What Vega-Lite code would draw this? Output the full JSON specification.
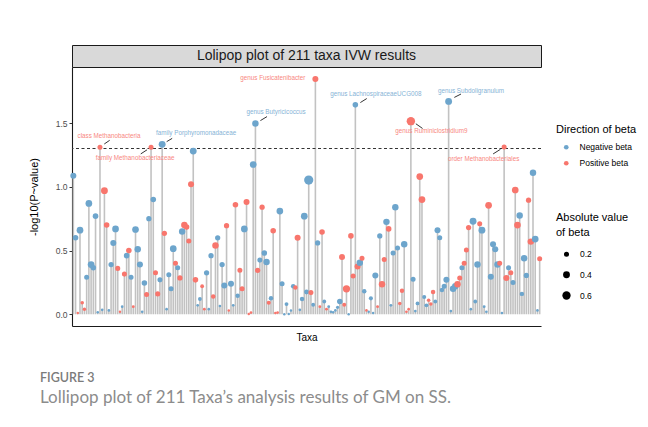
{
"$schema": "https://vega.github.io/schema/vega-lite/v6.json",
"autosize": {"type": "pad"},
"padding": {"left": 28, "top": 44, "right": 0, "bottom": 0},
"background": "white",
"config": {"font": "Liberation Sans", "view": {"stroke": null}, "concat": {"spacing": 0}},
"title": {"text": "FIGURE 3", "subtitle": "Lollipop plot of 211 Taxa’s analysis results of GM on SS.", "orient": "bottom", "anchor": "start", "frame": "group", "font": "Lato", "fontSize": 12.5, "fontWeight": 600, "color": "#7b7b7b", "subtitleFont": "Lato", "subtitleFontSize": 17, "subtitleColor": "#8c8c8c", "subtitlePadding": 5, "offset": 30, "dx": -32},
"datasets": {"taxa": [
{"i":1,"p":1.087,"d":"Negative beta","b":0.3},
{"i":2,"p":0.60,"d":"Negative beta","b":0.25},
{"i":3,"p":0.01,"d":"Positive beta","b":0.02},
{"i":4,"p":0.66,"d":"Negative beta","b":0.38},
{"i":5,"p":0.09,"d":"Positive beta","b":0.08},
{"i":6,"p":0.04,"d":"Positive beta","b":0.08},
{"i":7,"p":0.29,"d":"Negative beta","b":0.2},
{"i":8,"p":0.87,"d":"Negative beta","b":0.38},
{"i":9,"p":0.39,"d":"Negative beta","b":0.38},
{"i":10,"p":0.365,"d":"Negative beta","b":0.25},
{"i":11,"p":0.77,"d":"Negative beta","b":0.25},
{"i":12,"p":0.015,"d":"Negative beta","b":0.02},
{"i":13,"p":1.31,"d":"Positive beta","b":0.2,"lab":"class Methanobacteria"},
{"i":14,"p":0.035,"d":"Negative beta","b":0.03},
{"i":15,"p":0.97,"d":"Positive beta","b":0.4},
{"i":16,"p":0.70,"d":"Positive beta","b":0.25},
{"i":17,"p":0.03,"d":"Negative beta","b":0.03},
{"i":18,"p":0.39,"d":"Negative beta","b":0.22},
{"i":19,"p":0.56,"d":"Negative beta","b":0.3},
{"i":20,"p":0.67,"d":"Negative beta","b":0.38},
{"i":21,"p":0.36,"d":"Positive beta","b":0.2},
{"i":22,"p":0.02,"d":"Positive beta","b":0.02},
{"i":23,"p":0.06,"d":"Negative beta","b":0.03},
{"i":24,"p":0.315,"d":"Positive beta","b":0.2},
{"i":25,"p":0.46,"d":"Negative beta","b":0.25},
{"i":26,"p":0.50,"d":"Positive beta","b":0.25},
{"i":27,"p":0.29,"d":"Negative beta","b":0.2},
{"i":28,"p":0.06,"d":"Positive beta","b":0.04},
{"i":29,"p":0.665,"d":"Negative beta","b":0.38},
{"i":30,"p":0.51,"d":"Negative beta","b":0.35},
{"i":31,"p":0.39,"d":"Negative beta","b":0.3},
{"i":32,"p":0.02,"d":"Negative beta","b":0.03},
{"i":33,"p":0.245,"d":"Negative beta","b":0.25},
{"i":34,"p":0.155,"d":"Positive beta","b":0.2},
{"i":35,"p":0.75,"d":"Negative beta","b":0.22},
{"i":36,"p":1.31,"d":"Positive beta","b":0.2,"lab":"family Methanobacteriaceae"},
{"i":37,"p":0.90,"d":"Negative beta","b":0.25},
{"i":38,"p":0.325,"d":"Positive beta","b":0.2},
{"i":39,"p":0.16,"d":"Positive beta","b":0.2},
{"i":40,"p":0.27,"d":"Negative beta","b":0.2},
{"i":41,"p":1.333,"d":"Negative beta","b":0.4,"lab":"family Porphyromonadaceae"},
{"i":42,"p":0.635,"d":"Positive beta","b":0.22},
{"i":43,"p":0.04,"d":"Negative beta","b":0.03},
{"i":44,"p":0.31,"d":"Negative beta","b":0.2},
{"i":45,"p":0.20,"d":"Negative beta","b":0.2},
{"i":46,"p":0.515,"d":"Negative beta","b":0.38},
{"i":47,"p":0.40,"d":"Positive beta","b":0.2},
{"i":48,"p":0.365,"d":"Negative beta","b":0.2},
{"i":49,"p":0.285,"d":"Positive beta","b":0.22},
{"i":50,"p":0.65,"d":"Negative beta","b":0.35},
{"i":51,"p":0.70,"d":"Positive beta","b":0.35},
{"i":52,"p":0.685,"d":"Positive beta","b":0.25},
{"i":53,"p":0.575,"d":"Positive beta","b":0.2},
{"i":54,"p":1.02,"d":"Positive beta","b":0.3},
{"i":55,"p":1.28,"d":"Negative beta","b":0.4},
{"i":56,"p":0.27,"d":"Positive beta","b":0.25},
{"i":57,"p":0.07,"d":"Negative beta","b":0.03},
{"i":58,"p":0.12,"d":"Negative beta","b":0.1},
{"i":59,"p":0.22,"d":"Positive beta","b":0.1},
{"i":60,"p":0.04,"d":"Positive beta","b":0.04},
{"i":61,"p":0.325,"d":"Negative beta","b":0.22},
{"i":62,"p":0.04,"d":"Negative beta","b":0.03},
{"i":63,"p":0.46,"d":"Negative beta","b":0.22},
{"i":64,"p":0.14,"d":"Positive beta","b":0.15},
{"i":65,"p":0.54,"d":"Positive beta","b":0.35},
{"i":66,"p":0.60,"d":"Negative beta","b":0.22},
{"i":67,"p":0.065,"d":"Negative beta","b":0.03},
{"i":68,"p":0.39,"d":"Negative beta","b":0.22},
{"i":69,"p":0.225,"d":"Negative beta","b":0.3},
{"i":70,"p":0.695,"d":"Positive beta","b":0.22},
{"i":71,"p":0.03,"d":"Positive beta","b":0.02},
{"i":72,"p":0.24,"d":"Negative beta","b":0.3},
{"i":73,"p":0.07,"d":"Negative beta","b":0.03},
{"i":74,"p":0.86,"d":"Positive beta","b":0.25},
{"i":75,"p":0.145,"d":"Negative beta","b":0.15},
{"i":76,"p":0.345,"d":"Positive beta","b":0.2},
{"i":77,"p":0.20,"d":"Positive beta","b":0.2},
{"i":78,"p":0.67,"d":"Negative beta","b":0.38},
{"i":79,"p":0.88,"d":"Positive beta","b":0.3},
{"i":80,"p":0.003,"d":"Positive beta","b":0.02},
{"i":81,"p":0.013,"d":"Positive beta","b":0.03},
{"i":82,"p":1.175,"d":"Negative beta","b":0.38},
{"i":83,"p":1.496,"d":"Negative beta","b":0.35,"lab":"genus Butyricicoccus"},
{"i":84,"p":0.345,"d":"Positive beta","b":0.22},
{"i":85,"p":0.425,"d":"Negative beta","b":0.2},
{"i":86,"p":0.84,"d":"Positive beta","b":0.22},
{"i":87,"p":0.48,"d":"Negative beta","b":0.25},
{"i":88,"p":0.41,"d":"Negative beta","b":0.35},
{"i":89,"p":0.09,"d":"Positive beta","b":0.12},
{"i":90,"p":0.125,"d":"Negative beta","b":0.15},
{"i":91,"p":0.655,"d":"Positive beta","b":0.25},
{"i":92,"p":0.01,"d":"Positive beta","b":0.03},
{"i":93,"p":0.013,"d":"Positive beta","b":0.03},
{"i":94,"p":0.81,"d":"Negative beta","b":0.38},
{"i":95,"p":0.24,"d":"Negative beta","b":0.2},
{"i":96,"p":0.0,"d":"Negative beta","b":0.02},
{"i":97,"p":0.08,"d":"Negative beta","b":0.1},
{"i":98,"p":0.002,"d":"Negative beta","b":0.02},
{"i":99,"p":0.03,"d":"Negative beta","b":0.02},
{"i":100,"p":0.22,"d":"Negative beta","b":0.15},
{"i":101,"p":0.21,"d":"Positive beta","b":0.15},
{"i":102,"p":0.60,"d":"Positive beta","b":0.3},
{"i":103,"p":0.035,"d":"Negative beta","b":0.03},
{"i":104,"p":0.12,"d":"Negative beta","b":0.15},
{"i":105,"p":0.77,"d":"Negative beta","b":0.38},
{"i":106,"p":0.175,"d":"Negative beta","b":0.18},
{"i":107,"p":1.053,"d":"Negative beta","b":0.75},
{"i":108,"p":0.17,"d":"Positive beta","b":0.2},
{"i":109,"p":0.075,"d":"Negative beta","b":0.1},
{"i":110,"p":1.845,"d":"Positive beta","b":0.3,"lab":"genus Fusicatenibacter"},
{"i":111,"p":0.56,"d":"Negative beta","b":0.22},
{"i":112,"p":0.06,"d":"Positive beta","b":0.04},
{"i":113,"p":0.645,"d":"Positive beta","b":0.25},
{"i":114,"p":0.10,"d":"Negative beta","b":0.1},
{"i":115,"p":0.04,"d":"Positive beta","b":0.04},
{"i":116,"p":0.06,"d":"Negative beta","b":0.04},
{"i":117,"p":0.02,"d":"Negative beta","b":0.03},
{"i":118,"p":0.015,"d":"Negative beta","b":0.02},
{"i":119,"p":0.03,"d":"Negative beta","b":0.03},
{"i":120,"p":0.055,"d":"Negative beta","b":0.06},
{"i":121,"p":0.10,"d":"Negative beta","b":0.25},
{"i":122,"p":0.45,"d":"Positive beta","b":0.3},
{"i":123,"p":0.075,"d":"Positive beta","b":0.1},
{"i":124,"p":0.20,"d":"Positive beta","b":0.45},
{"i":125,"p":0.0,"d":"Negative beta","b":0.02},
{"i":126,"p":0.615,"d":"Positive beta","b":0.25},
{"i":127,"p":0.30,"d":"Positive beta","b":0.2},
{"i":128,"p":1.643,"d":"Negative beta","b":0.25,"lab":"genus LachnospiraceaeUCG008"},
{"i":129,"p":0.375,"d":"Positive beta","b":0.3},
{"i":130,"p":0.405,"d":"Negative beta","b":0.35},
{"i":131,"p":0.44,"d":"Positive beta","b":0.2},
{"i":132,"p":0.18,"d":"Negative beta","b":0.15},
{"i":133,"p":0.03,"d":"Positive beta","b":0.03},
{"i":134,"p":0.02,"d":"Negative beta","b":0.02},
{"i":135,"p":0.125,"d":"Negative beta","b":0.12},
{"i":136,"p":0.01,"d":"Negative beta","b":0.02},
{"i":137,"p":0.305,"d":"Negative beta","b":0.3},
{"i":138,"p":0.06,"d":"Positive beta","b":0.04},
{"i":139,"p":0.615,"d":"Negative beta","b":0.22},
{"i":140,"p":0.235,"d":"Positive beta","b":0.35},
{"i":141,"p":0.43,"d":"Positive beta","b":0.2},
{"i":142,"p":0.725,"d":"Negative beta","b":0.35},
{"i":143,"p":0.67,"d":"Positive beta","b":0.25},
{"i":144,"p":0.07,"d":"Negative beta","b":0.04},
{"i":145,"p":0.48,"d":"Negative beta","b":0.2},
{"i":146,"p":0.84,"d":"Negative beta","b":0.35},
{"i":147,"p":0.52,"d":"Negative beta","b":0.2},
{"i":148,"p":0.085,"d":"Positive beta","b":0.08},
{"i":149,"p":0.185,"d":"Positive beta","b":0.15},
{"i":150,"p":0.55,"d":"Negative beta","b":0.35},
{"i":151,"p":0.02,"d":"Positive beta","b":0.03},
{"i":152,"p":0.04,"d":"Positive beta","b":0.03},
{"i":153,"p":1.515,"d":"Positive beta","b":0.62,"lab":"genus Ruminiclostridium9"},
{"i":154,"p":0.275,"d":"Negative beta","b":0.2},
{"i":155,"p":0.025,"d":"Negative beta","b":0.03},
{"i":156,"p":0.085,"d":"Negative beta","b":0.1},
{"i":157,"p":1.08,"d":"Positive beta","b":0.38},
{"i":158,"p":0.90,"d":"Positive beta","b":0.38},
{"i":159,"p":0.135,"d":"Negative beta","b":0.12},
{"i":160,"p":0.07,"d":"Negative beta","b":0.1},
{"i":161,"p":0.11,"d":"Positive beta","b":0.08},
{"i":162,"p":0.08,"d":"Positive beta","b":0.08},
{"i":163,"p":0.175,"d":"Positive beta","b":0.15},
{"i":164,"p":0.10,"d":"Negative beta","b":0.1},
{"i":165,"p":0.66,"d":"Negative beta","b":0.3},
{"i":166,"p":0.60,"d":"Negative beta","b":0.2},
{"i":167,"p":0.19,"d":"Negative beta","b":0.15},
{"i":168,"p":0.22,"d":"Negative beta","b":0.2},
{"i":169,"p":0.27,"d":"Negative beta","b":0.3},
{"i":170,"p":1.67,"d":"Negative beta","b":0.4,"lab":"genus Subdoligranulum"},
{"i":171,"p":0.025,"d":"Negative beta","b":0.03},
{"i":172,"p":0.20,"d":"Negative beta","b":0.35},
{"i":173,"p":0.22,"d":"Negative beta","b":0.35},
{"i":174,"p":0.235,"d":"Positive beta","b":0.35},
{"i":175,"p":0.285,"d":"Positive beta","b":0.2},
{"i":176,"p":0.365,"d":"Negative beta","b":0.2},
{"i":177,"p":0.40,"d":"Positive beta","b":0.2},
{"i":178,"p":0.505,"d":"Positive beta","b":0.2},
{"i":179,"p":0.68,"d":"Positive beta","b":0.22},
{"i":180,"p":0.04,"d":"Negative beta","b":0.03},
{"i":181,"p":0.73,"d":"Negative beta","b":0.4},
{"i":182,"p":0.10,"d":"Negative beta","b":0.1},
{"i":183,"p":0.39,"d":"Negative beta","b":0.35},
{"i":184,"p":0.71,"d":"Positive beta","b":0.2},
{"i":185,"p":0.66,"d":"Negative beta","b":0.4},
{"i":186,"p":0.06,"d":"Negative beta","b":0.04},
{"i":187,"p":0.02,"d":"Negative beta","b":0.03},
{"i":188,"p":0.855,"d":"Positive beta","b":0.38},
{"i":189,"p":0.295,"d":"Negative beta","b":0.3},
{"i":190,"p":0.55,"d":"Negative beta","b":0.3},
{"i":191,"p":0.51,"d":"Negative beta","b":0.3},
{"i":192,"p":0.39,"d":"Negative beta","b":0.35},
{"i":193,"p":0.40,"d":"Positive beta","b":0.2},
{"i":194,"p":0.01,"d":"Negative beta","b":0.03},
{"i":195,"p":1.313,"d":"Positive beta","b":0.2,"lab":"order Methanobacteriales"},
{"i":196,"p":0.285,"d":"Positive beta","b":0.3},
{"i":197,"p":0.365,"d":"Negative beta","b":0.2},
{"i":198,"p":0.325,"d":"Positive beta","b":0.2},
{"i":199,"p":0.25,"d":"Negative beta","b":0.2},
{"i":200,"p":0.975,"d":"Positive beta","b":0.38},
{"i":201,"p":0.70,"d":"Positive beta","b":0.38},
{"i":202,"p":0.775,"d":"Negative beta","b":0.35},
{"i":203,"p":0.16,"d":"Negative beta","b":0.15},
{"i":204,"p":0.44,"d":"Negative beta","b":0.35},
{"i":205,"p":0.305,"d":"Negative beta","b":0.22},
{"i":206,"p":0.895,"d":"Positive beta","b":0.22},
{"i":207,"p":0.57,"d":"Positive beta","b":0.35},
{"i":208,"p":1.11,"d":"Negative beta","b":0.35},
{"i":209,"p":0.59,"d":"Negative beta","b":0.38},
{"i":210,"p":0.03,"d":"Negative beta","b":0.03},
{"i":211,"p":0.435,"d":"Positive beta","b":0.2}
]},
"vconcat": [
{
 "width": 469, "height": 22,
 "view": {"fill": "#D9D9D9", "stroke": "#1a1a1a", "strokeWidth": 1},
 "data": {"values": [{"t": "Lolipop plot of 211 taxa IVW results"}]},
 "mark": {"type": "text", "fontSize": 14, "color": "#1a1a1a", "font": "Liberation Sans", "baseline": "middle"},
 "encoding": {"text": {"field": "t"}}
},
{
 "width": 469, "height": 259,
 "data": {"name": "taxa"},
 "layer": [
  {"mark": {"type": "rule", "color": "#C2C2C2", "strokeWidth": 1.6},
   "encoding": {
    "x": {"field": "i", "type": "quantitative", "scale": {"domain": [0.4, 211.6], "nice": false, "zero": false},
          "axis": {"title": "Taxa", "labels": false, "ticks": false, "grid": false, "domainColor": "#1a1a1a", "domainWidth": 1.1, "titleFontSize": 10, "titleFontWeight": "normal", "titleColor": "#000", "titlePadding": 6}},
    "y": {"field": "p", "type": "quantitative", "scale": {"domain": [-0.092, 1.94], "nice": false, "zero": false},
          "axis": {"title": "-log10(P~value)", "values": [0, 0.5, 1, 1.5], "format": ".1f", "grid": false, "domainColor": "#1a1a1a", "domainWidth": 1.1, "tickColor": "#333", "tickSize": 3, "labelFontSize": 8.5, "labelColor": "#4d4d4d", "labelPadding": 2, "titleFontSize": 11, "titleFontWeight": "normal", "titleColor": "#000", "titlePadding": 16}},
    "y2": {"datum": 0}
   }},
  {"data": {"values": [{}]},
   "mark": {"type": "rule", "strokeDash": [3, 2.5], "color": "#333", "strokeWidth": 1.1},
   "encoding": {"y": {"datum": 1.30103, "type": "quantitative"}}},
  {"mark": {"type": "circle", "opacity": 1},
   "encoding": {
    "x": {"field": "i", "type": "quantitative"},
    "y": {"field": "p", "type": "quantitative"},
    "color": {"field": "d", "type": "nominal", "scale": {"domain": ["Negative beta", "Positive beta"], "range": ["#6DA5CC", "#F8766D"]},
      "legend": {"title": "Direction of beta", "orient": "none", "legendX": 484, "legendY": 79, "titleFontSize": 11, "titleFontWeight": "normal", "titleColor": "#000", "labelFontSize": 8.5, "labelColor": "#000", "symbolSize": 22, "symbolType": "circle", "rowPadding": 7, "titlePadding": 8, "labelOffset": 9, "symbolOffset": 6}},
    "size": {"field": "b", "type": "quantitative", "scale": {"domain": [0, 0.8], "range": [4, 90]},
      "legend": {"title": ["Absolute value", "of beta"], "orient": "none", "legendX": 484, "legendY": 167, "values": [0.2, 0.4, 0.6], "symbolFillColor": "#000", "symbolStrokeColor": "#000", "symbolStrokeWidth": 0, "symbolType": "circle", "titleFontSize": 11, "titleFontWeight": "normal", "titleColor": "#000", "titleLineHeight": 15, "labelFontSize": 8.5, "labelColor": "#000", "rowPadding": 11.5, "titlePadding": 12, "labelOffset": 9, "symbolOffset": 6}}
   }},
  {"transform": [{"filter": "datum.lab === 'class Methanobacteria'"}],
   "mark": {"type": "rule", "color": "#000", "strokeWidth": 0.8, "xOffset": 4.3, "yOffset": -3.3, "x2Offset": 9.7, "y2Offset": -7},
   "encoding": {"x": {"field": "i", "type": "quantitative"}, "y": {"field": "p", "type": "quantitative"}, "x2": {"field": "i"}, "y2": {"field": "p"}}},
  {"transform": [{"filter": "datum.lab === 'class Methanobacteria'"}],
   "mark": {"type": "text", "dx": 9, "dy": -11.7, "fontSize": 6.3, "color": "#F8877F", "align": "center", "baseline": "middle"},
   "encoding": {"x": {"field": "i", "type": "quantitative"}, "y": {"field": "p", "type": "quantitative"}, "text": {"field": "lab"}}},
  {"transform": [{"filter": "datum.lab === 'family Methanobacteriaceae'"}],
   "mark": {"type": "rule", "color": "#000", "strokeWidth": 0.8, "xOffset": -4, "yOffset": 2.5, "x2Offset": -10.3, "y2Offset": 6.6},
   "encoding": {"x": {"field": "i", "type": "quantitative"}, "y": {"field": "p", "type": "quantitative"}, "x2": {"field": "i"}, "y2": {"field": "p"}}},
  {"transform": [{"filter": "datum.lab === 'family Methanobacteriaceae'"}],
   "mark": {"type": "text", "dx": -16, "dy": 11, "fontSize": 6.3, "color": "#F8877F", "align": "center", "baseline": "middle"},
   "encoding": {"x": {"field": "i", "type": "quantitative"}, "y": {"field": "p", "type": "quantitative"}, "text": {"field": "lab"}}},
  {"transform": [{"filter": "datum.lab === 'family Porphyromonadaceae'"}],
   "mark": {"type": "rule", "color": "#000", "strokeWidth": 0.8, "xOffset": 4.5, "yOffset": -2.7, "x2Offset": 10, "y2Offset": -6},
   "encoding": {"x": {"field": "i", "type": "quantitative"}, "y": {"field": "p", "type": "quantitative"}, "x2": {"field": "i"}, "y2": {"field": "p"}}},
  {"transform": [{"filter": "datum.lab === 'family Porphyromonadaceae'"}],
   "mark": {"type": "text", "dx": 34, "dy": -11.4, "fontSize": 6.3, "color": "#86B3D6", "align": "center", "baseline": "middle"},
   "encoding": {"x": {"field": "i", "type": "quantitative"}, "y": {"field": "p", "type": "quantitative"}, "text": {"field": "lab"}}},
  {"transform": [{"filter": "datum.lab === 'genus Fusicatenibacter'"}],
   "mark": {"type": "text", "dx": -10, "dy": -1.4, "fontSize": 6.3, "color": "#F8877F", "align": "right", "baseline": "middle"},
   "encoding": {"x": {"field": "i", "type": "quantitative"}, "y": {"field": "p", "type": "quantitative"}, "text": {"field": "lab"}}},
  {"transform": [{"filter": "datum.lab === 'genus Butyricicoccus'"}],
   "mark": {"type": "rule", "color": "#000", "strokeWidth": 0.8, "xOffset": 5, "yOffset": -3, "x2Offset": 11.6, "y2Offset": -7},
   "encoding": {"x": {"field": "i", "type": "quantitative"}, "y": {"field": "p", "type": "quantitative"}, "x2": {"field": "i"}, "y2": {"field": "p"}}},
  {"transform": [{"filter": "datum.lab === 'genus Butyricicoccus'"}],
   "mark": {"type": "text", "dx": 20.6, "dy": -11.3, "fontSize": 6.3, "color": "#86B3D6", "align": "center", "baseline": "middle"},
   "encoding": {"x": {"field": "i", "type": "quantitative"}, "y": {"field": "p", "type": "quantitative"}, "text": {"field": "lab"}}},
  {"transform": [{"filter": "datum.lab === 'genus LachnospiraceaeUCG008'"}],
   "mark": {"type": "rule", "color": "#000", "strokeWidth": 0.8, "xOffset": 5, "yOffset": -2.3, "x2Offset": 11.4, "y2Offset": -6.3},
   "encoding": {"x": {"field": "i", "type": "quantitative"}, "y": {"field": "p", "type": "quantitative"}, "x2": {"field": "i"}, "y2": {"field": "p"}}},
  {"transform": [{"filter": "datum.lab === 'genus LachnospiraceaeUCG008'"}],
   "mark": {"type": "text", "dx": 20.5, "dy": -10.6, "fontSize": 6.3, "color": "#86B3D6", "align": "center", "baseline": "middle"},
   "encoding": {"x": {"field": "i", "type": "quantitative"}, "y": {"field": "p", "type": "quantitative"}, "text": {"field": "lab"}}},
  {"transform": [{"filter": "datum.lab === 'genus Ruminiclostridium9'"}],
   "mark": {"type": "rule", "color": "#000", "strokeWidth": 0.8, "xOffset": 5, "yOffset": 2.6, "x2Offset": 11.7, "y2Offset": 7.3},
   "encoding": {"x": {"field": "i", "type": "quantitative"}, "y": {"field": "p", "type": "quantitative"}, "x2": {"field": "i"}, "y2": {"field": "p"}}},
  {"transform": [{"filter": "datum.lab === 'genus Ruminiclostridium9'"}],
   "mark": {"type": "text", "dx": 20.5, "dy": 10.3, "fontSize": 6.3, "color": "#F8877F", "align": "center", "baseline": "middle"},
   "encoding": {"x": {"field": "i", "type": "quantitative"}, "y": {"field": "p", "type": "quantitative"}, "text": {"field": "lab"}}},
  {"transform": [{"filter": "datum.lab === 'genus Subdoligranulum'"}],
   "mark": {"type": "rule", "color": "#000", "strokeWidth": 0.8, "xOffset": 5.7, "yOffset": -4, "x2Offset": 12.4, "y2Offset": -7.4},
   "encoding": {"x": {"field": "i", "type": "quantitative"}, "y": {"field": "p", "type": "quantitative"}, "x2": {"field": "i"}, "y2": {"field": "p"}}},
  {"transform": [{"filter": "datum.lab === 'genus Subdoligranulum'"}],
   "mark": {"type": "text", "dx": 22.4, "dy": -10.7, "fontSize": 6.3, "color": "#86B3D6", "align": "center", "baseline": "middle"},
   "encoding": {"x": {"field": "i", "type": "quantitative"}, "y": {"field": "p", "type": "quantitative"}, "text": {"field": "lab"}}},
  {"transform": [{"filter": "datum.lab === 'order Methanobacteriales'"}],
   "mark": {"type": "rule", "color": "#000", "strokeWidth": 0.8, "xOffset": -3.7, "yOffset": 2.4, "x2Offset": -11, "y2Offset": 7},
   "encoding": {"x": {"field": "i", "type": "quantitative"}, "y": {"field": "p", "type": "quantitative"}, "x2": {"field": "i"}, "y2": {"field": "p"}}},
  {"transform": [{"filter": "datum.lab === 'order Methanobacteriales'"}],
   "mark": {"type": "text", "dx": -20.5, "dy": 11.7, "fontSize": 6.3, "color": "#F8877F", "align": "center", "baseline": "middle"},
   "encoding": {"x": {"field": "i", "type": "quantitative"}, "y": {"field": "p", "type": "quantitative"}, "text": {"field": "lab"}}}
 ]
}
],
"bounds": "flush"
}
